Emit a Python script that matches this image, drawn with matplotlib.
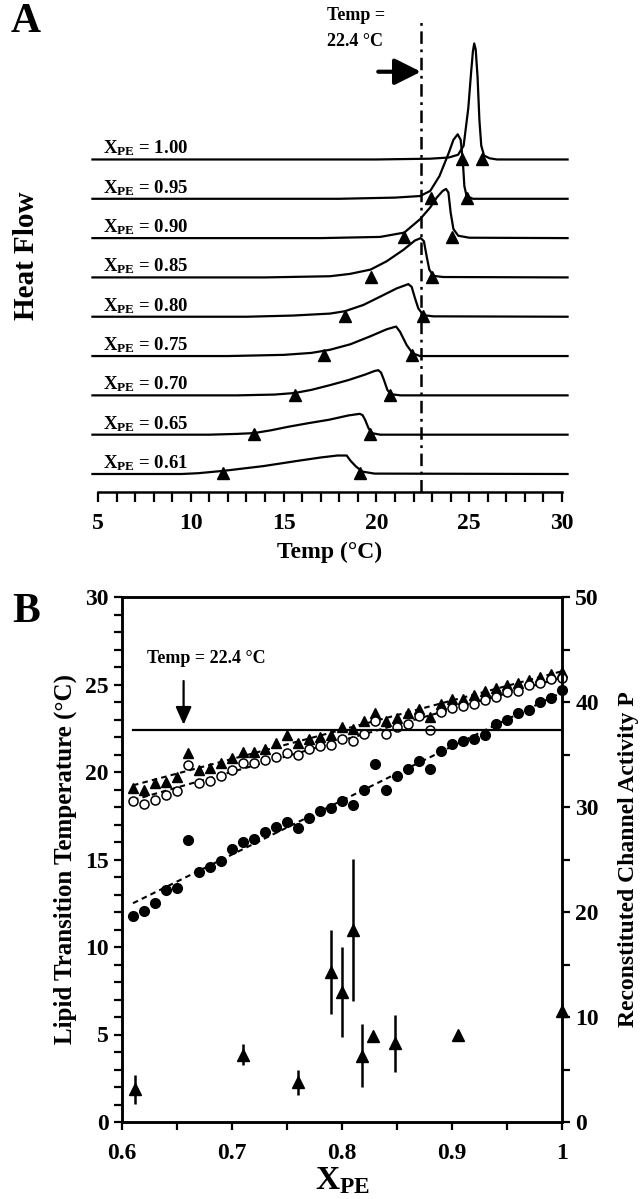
import numpy as np
import matplotlib
matplotlib.use("Agg")
import matplotlib.pyplot as plt
from matplotlib.ticker import MultipleLocator

plt.rcParams['font.family'] = ['Liberation Serif', 'DejaVu Serif']
plt.rcParams['font.weight'] = 'bold'
plt.rcParams['mathtext.fontset'] = 'custom'
plt.rcParams['mathtext.rm'] = 'Liberation Serif:bold'
plt.rcParams['mathtext.bf'] = 'Liberation Serif:bold'
plt.rcParams['mathtext.it'] = 'Liberation Serif:bold'
plt.rcParams['lines.scale_dashes'] = False

# ==========================================
# PANEL A DATA (DSC THERMOGRAMS, top to bottom)
# ==========================================

pe_labels = ['1.00', '0.95', '0.90', '0.85', '0.80', '0.75', '0.70', '0.65', '0.61']

temp_100 = [4.7, 20.0, 22.9, 23.9, 24.4, 24.7, 24.95, 25.1, 25.2, 25.27, 25.35, 25.45, 25.55, 25.65, 25.8, 26.1, 26.5, 30.3]
heat_100 = [0, 0, 0.02, 0.05, 0.12, 0.35, 1.3, 2.2, 2.75, 2.95, 2.8, 2.1, 1.0, 0.35, 0.1, 0.03, 0, 0]

temp_095 = [4.7, 18.0, 21.0, 22.35, 22.9, 23.4, 23.9, 24.15, 24.38, 24.54, 24.65, 24.74, 24.86, 25.2, 30.3]
heat_095 = [0, 0, 0.03, 0.07, 0.2, 0.58, 1.17, 1.5, 1.64, 1.5, 1.0, 0.32, 0.07, 0, 0]

temp_090 = [4.7, 17.0, 20.2, 21.5, 22.35, 22.9, 23.25, 23.57, 23.75, 23.88, 24.0, 24.15, 24.41, 25.0, 30.3]
heat_090 = [0, 0, 0.03, 0.14, 0.48, 0.78, 1.03, 1.2, 1.25, 1.16, 0.65, 0.23, 0.06, 0.01, 0]

temp_085 = [4.7, 14.0, 17.5, 18.58, 19.69, 20.55, 21.45, 22.08, 22.39, 22.56, 22.71, 22.85, 23.07, 23.6, 30.3]
heat_085 = [0, 0, 0.03, 0.09, 0.2, 0.41, 0.7, 0.94, 1.0, 0.92, 0.53, 0.2, 0.04, 0.01, 0]

temp_080 = [4.7, 13.0, 15.5, 17.5, 18.3, 19.3, 20.2, 21.09, 21.72, 21.9, 22.08, 22.26, 22.53, 23.07, 30.3]
heat_080 = [0, 0, 0.03, 0.08, 0.14, 0.3, 0.51, 0.72, 0.83, 0.76, 0.47, 0.21, 0.04, 0.01, 0]

temp_075 = [4.7, 12.0, 15.0, 16.5, 17.5, 18.6, 19.66, 20.55, 21.06, 21.27, 21.63, 21.95, 22.35, 30.3]
heat_075 = [0, 0, 0.03, 0.08, 0.16, 0.3, 0.5, 0.68, 0.75, 0.62, 0.28, 0.07, 0.0, 0]

temp_070 = [4.7, 12.5, 14.5, 15.6, 16.5, 17.5, 18.5, 19.4, 19.9, 20.1, 20.25, 20.4, 20.59, 20.77, 21.3, 30.3]
heat_070 = [0, 0, 0.02, 0.06, 0.14, 0.26, 0.39, 0.53, 0.62, 0.64, 0.58, 0.4, 0.14, 0.03, 0, 0]

temp_065 = [4.7, 11.0, 12.5, 13.4, 14.3, 15.24, 16.3, 17.45, 18.5, 19.1, 19.25, 19.39, 19.57, 19.75, 20.2, 30.3]
heat_065 = [0, 0, 0.02, 0.04, 0.11, 0.2, 0.29, 0.38, 0.49, 0.53, 0.5, 0.38, 0.17, 0.04, 0, 0]

temp_061 = [4.7, 9.5, 10.4, 11.76, 13.9, 15.7, 17.0, 17.9, 18.4, 18.6, 18.9, 19.25, 19.9, 30.3]
heat_061 = [0, 0, 0.02, 0.08, 0.2, 0.33, 0.42, 0.47, 0.47, 0.34, 0.19, 0.06, 0.01, 0]

# onset / completion temperatures marked with triangles
onset_temps = [24.6, 22.95, 21.5, 19.7, 18.3, 17.15, 15.6, 13.4, 11.76]
end_temps = [25.67, 24.86, 24.1, 23.0, 22.5, 21.93, 20.75, 19.67, 19.1]

temp_line = 22.4

# ==========================================
# PANEL B DATA
# ==========================================

x_pe = [0.61, 0.62, 0.63, 0.64, 0.65, 0.66, 0.67, 0.68, 0.69, 0.70,
        0.71, 0.72, 0.73, 0.74, 0.75, 0.76, 0.77, 0.78, 0.79, 0.80,
        0.81, 0.82, 0.83, 0.84, 0.85, 0.86, 0.87, 0.88, 0.89, 0.90,
        0.91, 0.92, 0.93, 0.94, 0.95, 0.96, 0.97, 0.98, 0.99, 1.00]

t_end = [19.1, 19.0, 19.4, 19.45, 19.7, 21.1, 20.1, 20.25, 20.5, 20.8,
         21.15, 21.15, 21.3, 21.65, 22.1, 21.65, 21.9, 22.0, 22.1, 22.55,
         22.45, 22.9, 23.4, 22.9, 23.1, 23.35, 23.6, 23.15, 23.9, 24.15,
         24.2, 24.4, 24.65, 24.8, 24.95, 25.1, 25.25, 25.45, 25.6, 25.7]

t_peak = [18.35, 18.2, 18.4, 18.67, 18.9, 20.4, 19.35, 19.5, 19.8, 20.1,
          20.5, 20.5, 20.7, 20.85, 21.1, 21.0, 21.3, 21.5, 21.55, 21.9,
          21.8, 22.2, 22.9, 22.2, 22.6, 22.75, 23.2, 22.4, 23.45, 23.65,
          23.75, 23.9, 24.1, 24.3, 24.6, 24.65, 24.95, 25.1, 25.3, 25.4]

t_onset = [11.8, 12.05, 12.5, 13.25, 13.4, 16.1, 14.3, 14.6, 14.9, 15.6,
           16.0, 16.2, 16.6, 16.85, 17.15, 16.8, 17.4, 17.8, 17.95, 18.35,
           18.1, 19.0, 20.45, 19.0, 19.8, 20.15, 20.65, 20.15, 21.2, 21.6,
           21.8, 21.9, 22.1, 22.75, 23.0, 23.35, 23.55, 24.0, 24.25, 24.7]

x_act = [0.612, 0.71, 0.76, 0.79, 0.80, 0.81, 0.818, 0.828, 0.848, 0.905, 1.0]
p_act = [3.1, 6.4, 3.8, 14.3, 12.4, 18.3, 6.3, 8.2, 7.5, 8.3, 10.6]
p_err = [1.4, 1.0, 1.2, 4.0, 4.3, 6.75, 3.0, 0, 2.7, 0, 0]

# ==========================================
# FIGURE
# ==========================================

W, H = 643, 1199
fig = plt.figure(figsize=(W / 100, H / 100), dpi=100)

# ==========================================
# PANEL A
# ==========================================

ax_a = fig.add_axes([98 / W, (H - 492) / H, 464 / W, 482 / H])
ax_a.set_xlim(5, 30)
ax_a.set_ylim(0, 12.26)

curves = [(temp_100, heat_100), (temp_095, heat_095), (temp_090, heat_090),
          (temp_085, heat_085), (temp_080, heat_080), (temp_075, heat_075),
          (temp_070, heat_070), (temp_065, heat_065), (temp_061, heat_061)]

for i, (t, h) in enumerate(curves):
    base = 0.458 + (8 - i)
    ax_a.plot(t, np.array(h) + base, color='black', lw=1.6, clip_on=False,
              solid_joinstyle='round')
    ax_a.plot([onset_temps[i], end_temps[i]], [base + 0.02, base + 0.02], '^',
              color='black', ms=8, clip_on=False)
    ax_a.text(5.27, base + 0.28, r'$\mathbf{X}_{\mathbf{PE}}$ = ' + pe_labels[i],
              fontsize=13.5, fontweight='bold', ha='left', va='center')

ax_a.plot([temp_line, temp_line], [0, 12.06], color='black', lw=1.8,
          dashes=(9, 4, 2, 4), clip_on=False)

ax_a.annotate('', xy=(temp_line, 10.69), xytext=(20.1, 10.69),
              arrowprops=dict(arrowstyle='-|>,head_length=1.0,head_width=0.5',
                              lw=3, color='black', mutation_scale=16,
                              shrinkA=0, shrinkB=0))
ax_a.text(17.34, 12.13, 'Temp =', fontsize=13, fontweight='bold',
          ha='left', va='center')
ax_a.text(17.34, 11.45, '22.4 °C', fontsize=13, fontweight='bold',
          ha='left', va='center')

for s in ['left', 'right', 'top']:
    ax_a.spines[s].set_visible(False)
ax_a.spines['bottom'].set_linewidth(1.8)
ax_a.set_yticks([])
ax_a.xaxis.set_major_locator(MultipleLocator(5))
ax_a.xaxis.set_minor_locator(MultipleLocator(1))
ax_a.tick_params(axis='x', which='both', direction='out', length=7, width=1.6,
                 labelsize=17, pad=8)
ax_a.set_xlabel('Temp (°C)', fontsize=17, fontweight='bold', labelpad=6)

fig.text(27 / W, 1 - 256 / H, 'Heat Flow', rotation=90, fontsize=21,
         fontweight='bold', ha='center', va='center')
fig.text(26 / W, 1 - 22 / H, 'A', fontsize=30, fontweight='bold',
         ha='center', va='center')

# ==========================================
# PANEL B
# ==========================================

ax_b = fig.add_axes([122 / W, (H - 1122) / H, 440 / W, 525 / H])
ax_b.set_xlim(0.6, 1.0)
ax_b.set_ylim(0, 30)

xs = np.array(x_pe)
for series in [t_end, t_peak, t_onset]:
    k, b = np.polyfit(xs, series, 1)
    ax_b.plot([xs[0], xs[-1]], [k * xs[0] + b, k * xs[-1] + b], color='black',
              lw=1.5, dashes=(4, 3))

ax_b.plot(x_pe, t_end, '^', color='black', ms=7, clip_on=False)
ax_b.plot(x_pe, t_peak, 'o', mfc='white', mec='black', mew=1.1, ms=6.5,
          clip_on=False)
ax_b.plot(x_pe, t_onset, 'o', color='black', ms=7, clip_on=False)

ax_b.plot([0.61, 1.0], [temp_line, temp_line], color='black', lw=1.6)
ax_b.annotate('', xy=(0.656, 22.7), xytext=(0.656, 25.2),
              arrowprops=dict(arrowstyle='-|>,head_length=0.9,head_width=0.4',
                              lw=1.6, color='black', mutation_scale=12,
                              shrinkA=0, shrinkB=0))
ax_b.text(0.677, 26.5, 'Temp = 22.4 °C', fontsize=13, fontweight='bold',
          ha='center', va='center')

for s in ['left', 'right', 'top', 'bottom']:
    ax_b.spines[s].set_linewidth(1.8)
ax_b.xaxis.set_minor_locator(MultipleLocator(0.05))
ax_b.yaxis.set_major_locator(MultipleLocator(5))
ax_b.yaxis.set_minor_locator(MultipleLocator(1))
ax_b.set_xticks([0.6, 0.7, 0.8, 0.9, 1.0])
ax_b.set_xticklabels(['0.6', '0.7', '0.8', '0.9', '1'])
ax_b.tick_params(which='both', direction='out', length=6, width=1.6,
                 labelsize=17, top=False, right=False)
ax_b.tick_params(axis='x', which='both', pad=9)
ax_b.set_ylabel('Lipid Transition Temperature (°C)', fontsize=18,
                fontweight='bold', labelpad=6)
ax_b.set_xlabel(r'$\mathbf{X}_{\mathbf{PE}}$', fontsize=24, labelpad=1)

ax_p = ax_b.twinx()
ax_p.set_ylim(0, 50)
ax_p.errorbar(x_act, p_act, yerr=p_err, fmt='^', color='black', ms=9,
              elinewidth=1.8, capsize=0, clip_on=False)
ax_p.yaxis.set_major_locator(MultipleLocator(10))
ax_p.yaxis.set_minor_locator(MultipleLocator(5))
ax_p.tick_params(which='both', direction='out', length=6, width=1.6,
                 labelsize=17)
for s in ['left', 'right', 'top', 'bottom']:
    ax_p.spines[s].set_linewidth(1.8)
ax_p.set_ylabel('Reconstituted Channel Activity P', fontsize=17,
                fontweight='bold', labelpad=14)

fig.text(26 / W, 1 - 612 / H, 'B', fontsize=30, fontweight='bold',
         ha='center', va='center')

plt.savefig('out.png', dpi=100)
